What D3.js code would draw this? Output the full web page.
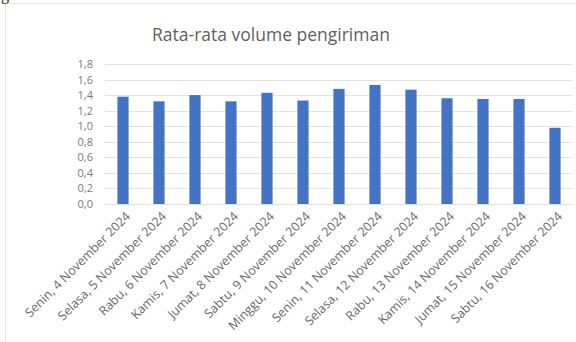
<!DOCTYPE html>
<html>
<head>
<meta charset="utf-8">
<script src="https://cdn.jsdelivr.net/npm/d3@7"></script>
<style>
  body { margin: 0; background: #fff; }
  svg { display: block; }
</style>
</head>
<body>
<div id="chart"></div>
<script>
var categories = [
  "Senin, 4 November 2024", "Selasa, 5 November 2024", "Rabu, 6 November 2024",
  "Kamis, 7 November 2024", "Jumat, 8 November 2024", "Sabtu, 9 November 2024",
  "Minggu, 10 November 2024", "Senin, 11 November 2024", "Selasa, 12 November 2024",
  "Rabu, 13 November 2024", "Kamis, 14 November 2024", "Jumat, 15 November 2024",
  "Sabtu, 16 November 2024"
];
var values = [1.38, 1.32, 1.40, 1.32, 1.43, 1.33, 1.48, 1.53, 1.47, 1.36, 1.35, 1.35, 0.98];
var yTicks = [0, 0.2, 0.4, 0.6, 0.8, 1.0, 1.2, 1.4, 1.6, 1.8];
var title = "Rata-rata volume pengiriman";

var W = 576, H = 342;
var margin = {top: 64, right: 3, bottom: 138, left: 105};
var width = W - margin.left - margin.right,
    height = H - margin.top - margin.bottom;

var font = "'Open Sans', 'Liberation Sans', sans-serif";

var root = d3.select("#chart").append("svg")
  .attr("width", W)
  .attr("height", H);

// frame of the chart box
root.append("path")
  .attr("d", "M5.5," + H + "V3.5H" + W)
  .style("fill", "none")
  .style("stroke", "#e4e4e4")
  .style("stroke-width", 1);

// bit of text from the page above the chart
root.append("text")
  .attr("x", 1)
  .attr("y", 0)
  .style("font-family", "'Liberation Serif', serif")
  .style("font-size", "16px")
  .style("fill", "#222")
  .text("g");

root.append("text")
  .attr("x", 271)
  .attr("y", 41)
  .style("text-anchor", "middle")
  .style("font-family", font)
  .style("font-size", "17.5px")
  .style("fill", "#5f5f5f")
  .text(title);

var svg = root.append("g")
  .attr("transform", "translate(" + margin.left + "," + margin.top + ")");

var x = d3.scaleBand().domain(categories).range([0, width]).paddingInner(0.69).paddingOuter(0.345);
var y = d3.scaleLinear().domain([0, 1.8]).range([height, 0]);

// grid lines
svg.append("g")
  .selectAll("line")
  .data(yTicks)
  .enter().append("line")
  .attr("x1", 0)
  .attr("x2", width)
  .attr("y1", function(d){ return Math.round(y(d)) + 0.5; })
  .attr("y2", function(d){ return Math.round(y(d)) + 0.5; })
  .style("stroke", "#e2e2e2")
  .style("stroke-width", 1);

// Y axis labels
var yAxis = svg.append("g")
  .call(d3.axisLeft(y).tickValues(yTicks).tickSize(0).tickPadding(12)
    .tickFormat(function(d){ return d3.format(".1f")(d).replace(".", ","); }));
yAxis.select(".domain").remove();
yAxis.selectAll("text")
  .style("font-family", font)
  .style("font-size", "11px")
  .style("fill", "#7a7a7a");

// bars
svg.selectAll(".bar")
  .data(values)
  .enter().append("rect")
  .attr("class", "bar")
  .attr("x", function(d, i){ return x(categories[i]); })
  .attr("width", x.bandwidth())
  .attr("y", function(d){ return y(d); })
  .attr("height", function(d){ return height - y(d); })
  .style("fill", "#4472c4");

// X axis labels
var xAxis = svg.append("g")
  .attr("transform", "translate(0," + height + ")")
  .call(d3.axisBottom(x).tickSize(0).tickPadding(0));
xAxis.select(".domain").remove();
xAxis.selectAll("text")
  .attr("transform", "translate(5,10) rotate(-45)")
  .attr("dy", "0.35em")
  .attr("y", 0)
  .attr("x", 0)
  .style("text-anchor", "end")
  .style("font-family", font)
  .style("font-size", "12.5px")
  .style("fill", "#6a6a6a");
</script>
</body>
</html>
